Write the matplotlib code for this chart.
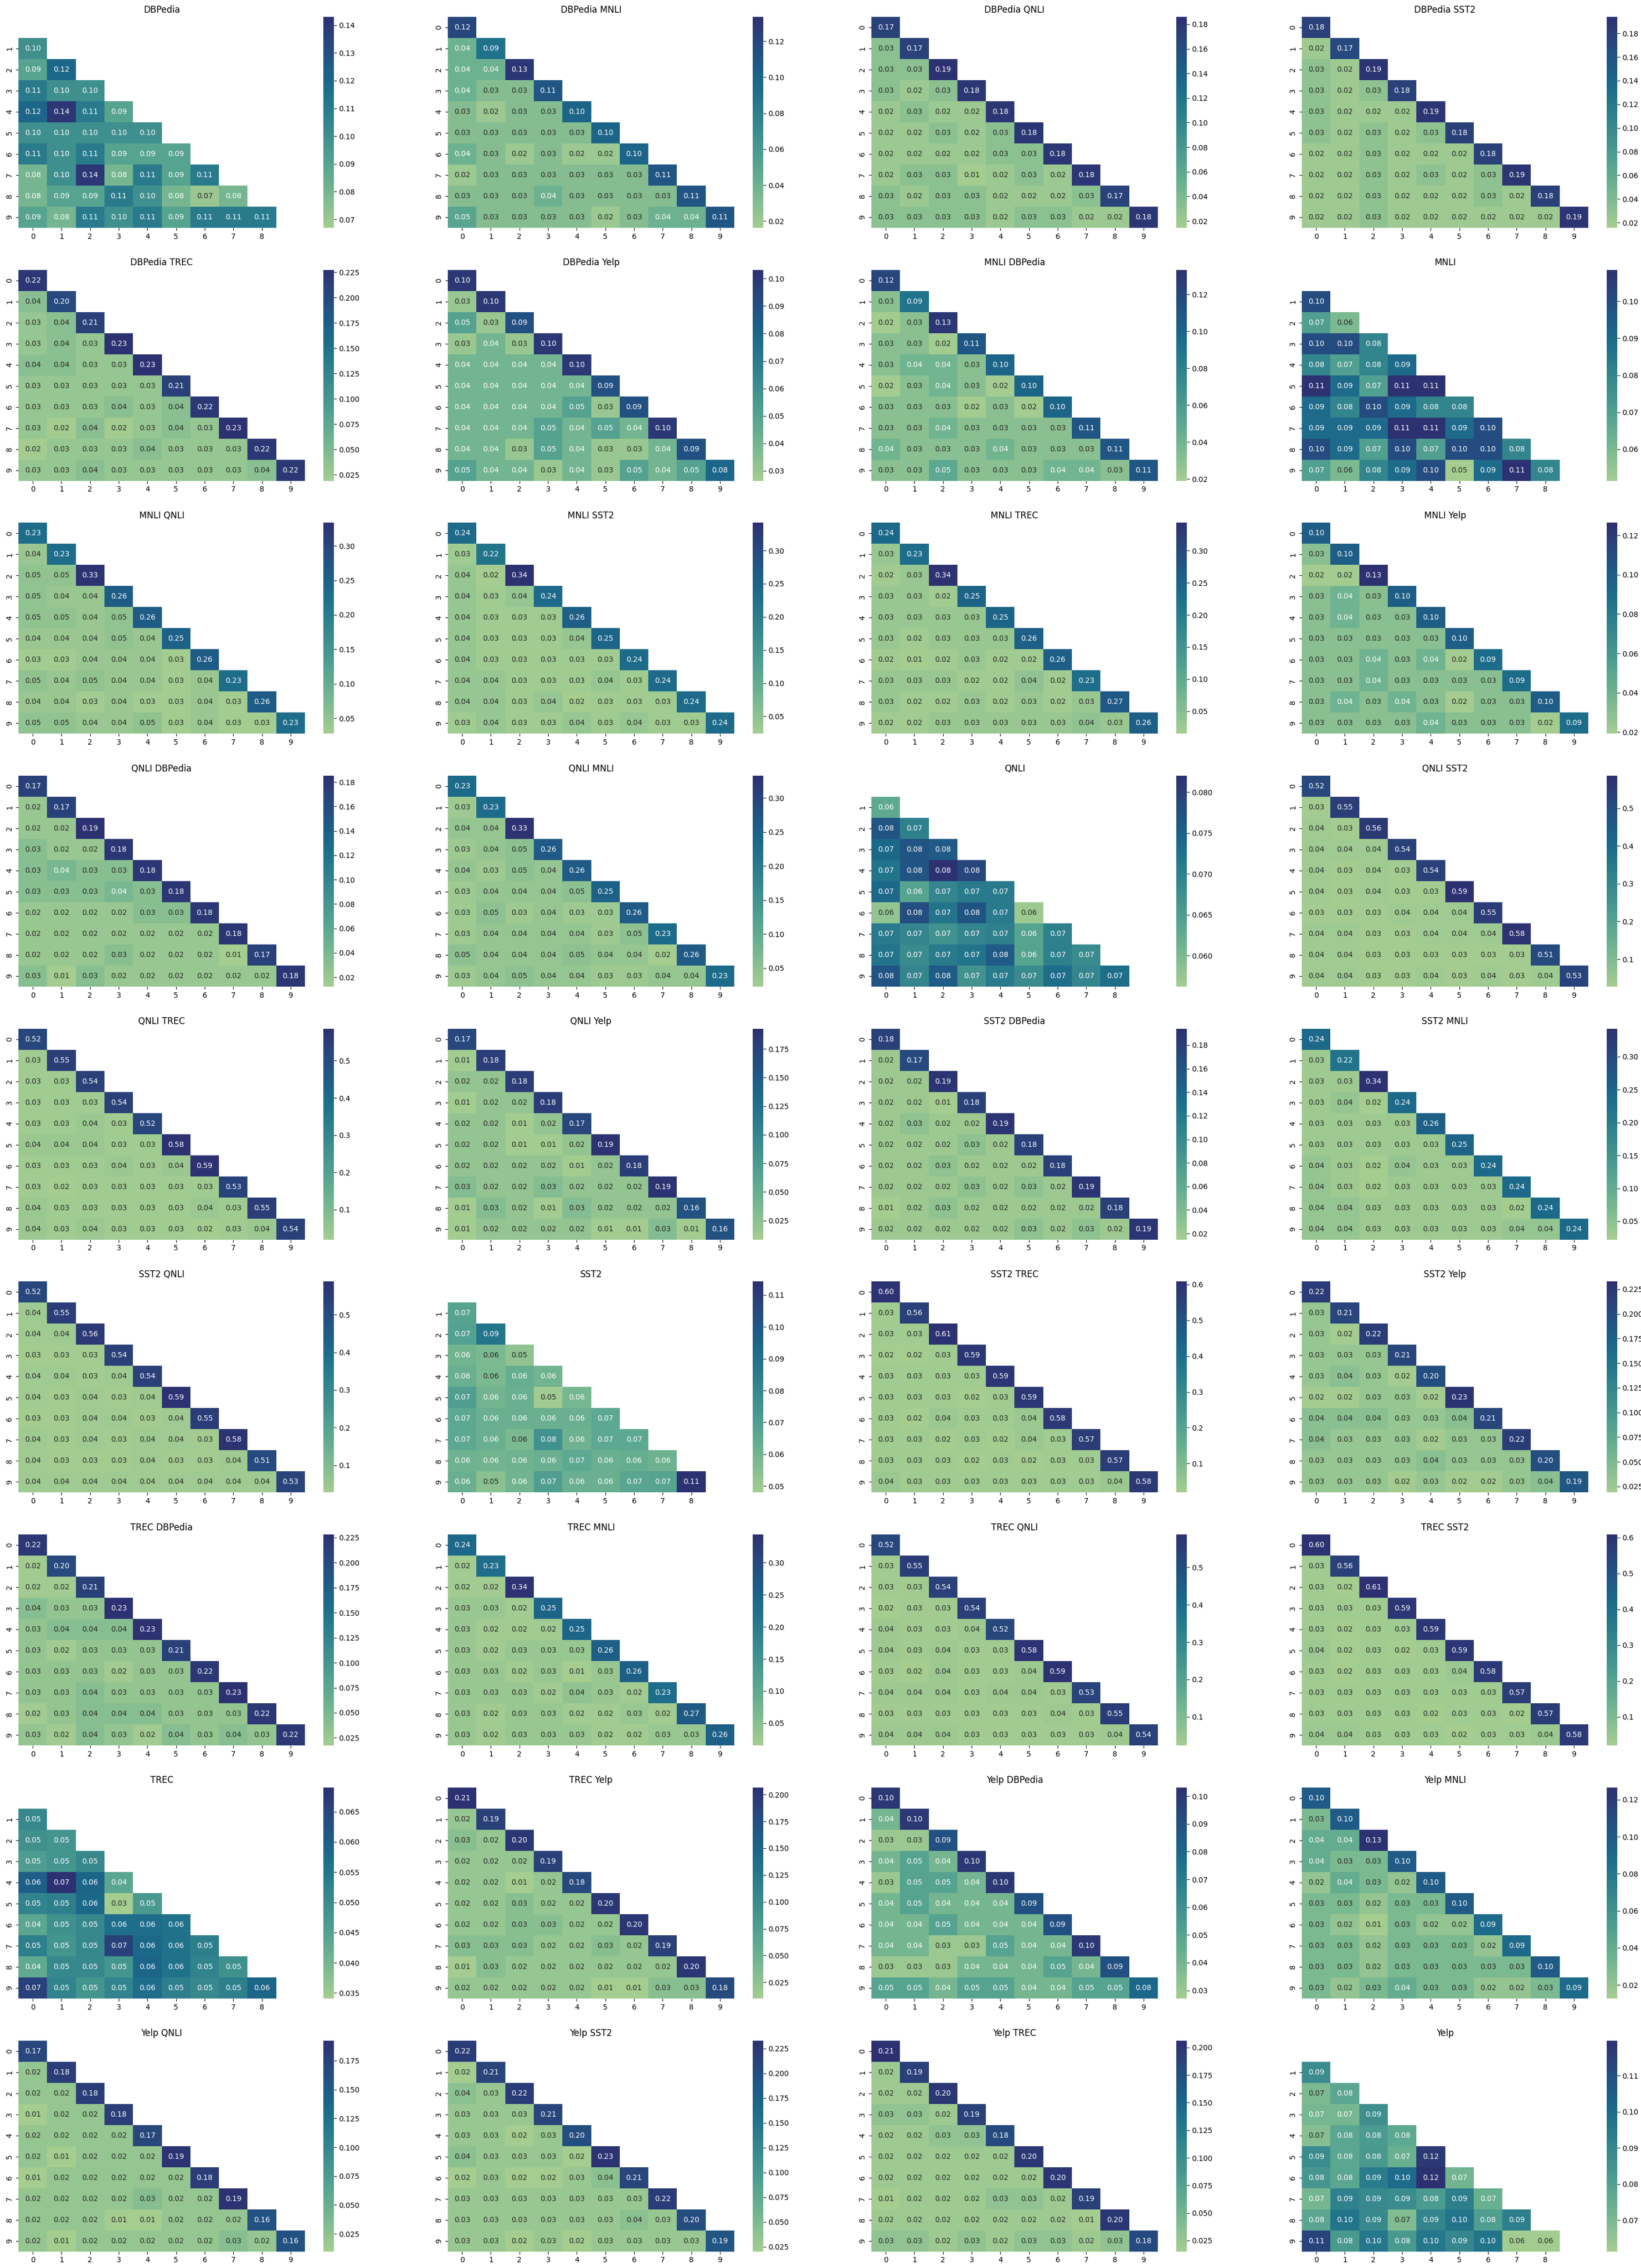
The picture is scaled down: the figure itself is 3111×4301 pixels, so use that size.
import numpy as np
import matplotlib
matplotlib.use("Agg")
import matplotlib.pyplot as plt
import seaborn as sns

datasets = ["DBPedia", "MNLI", "QNLI", "SST2", "TREC", "Yelp"]

# single dataset: strictly lower triangle (rows 1-9)
dbpedia = [
    [0.10],
    [0.09, 0.12],
    [0.11, 0.10, 0.10],
    [0.12, 0.14, 0.11, 0.09],
    [0.10, 0.10, 0.10, 0.10, 0.10],
    [0.11, 0.10, 0.11, 0.09, 0.09, 0.09],
    [0.08, 0.10, 0.14, 0.08, 0.11, 0.09, 0.11],
    [0.08, 0.09, 0.09, 0.11, 0.10, 0.08, 0.07, 0.08],
    [0.09, 0.08, 0.11, 0.10, 0.11, 0.09, 0.11, 0.11, 0.11],
]
mnli = [
    [0.10],
    [0.07, 0.06],
    [0.10, 0.10, 0.08],
    [0.08, 0.07, 0.08, 0.09],
    [0.11, 0.09, 0.07, 0.11, 0.11],
    [0.09, 0.08, 0.10, 0.09, 0.08, 0.08],
    [0.09, 0.09, 0.09, 0.11, 0.11, 0.09, 0.10],
    [0.10, 0.09, 0.07, 0.10, 0.07, 0.10, 0.10, 0.08],
    [0.07, 0.06, 0.08, 0.09, 0.10, 0.05, 0.09, 0.11, 0.08],
]
qnli = [
    [0.063],
    [0.077, 0.070],
    [0.074, 0.077, 0.076],
    [0.072, 0.077, 0.082, 0.079],
    [0.074, 0.064, 0.069, 0.071, 0.071],
    [0.058, 0.078, 0.072, 0.077, 0.071, 0.057],
    [0.071, 0.069, 0.067, 0.069, 0.070, 0.064, 0.070],
    [0.072, 0.068, 0.071, 0.072, 0.076, 0.064, 0.070, 0.068],
    [0.077, 0.069, 0.076, 0.067, 0.071, 0.068, 0.073, 0.069, 0.073],
]
sst2 = [
    [0.068],
    [0.069, 0.088],
    [0.060, 0.058, 0.053],
    [0.062, 0.058, 0.063, 0.060],
    [0.070, 0.060, 0.062, 0.049, 0.059],
    [0.066, 0.062, 0.062, 0.062, 0.062, 0.066],
    [0.066, 0.062, 0.058, 0.076, 0.061, 0.066, 0.066],
    [0.061, 0.060, 0.061, 0.062, 0.066, 0.062, 0.063, 0.061],
    [0.062, 0.054, 0.060, 0.070, 0.062, 0.062, 0.067, 0.068, 0.114],
]
trec = [
    [0.051],
    [0.049, 0.048],
    [0.046, 0.048, 0.051],
    [0.060, 0.069, 0.059, 0.044],
    [0.052, 0.053, 0.058, 0.034, 0.047],
    [0.044, 0.049, 0.051, 0.057, 0.057, 0.056],
    [0.053, 0.048, 0.051, 0.066, 0.058, 0.056, 0.053],
    [0.043, 0.051, 0.051, 0.048, 0.059, 0.056, 0.052, 0.049],
    [0.066, 0.052, 0.048, 0.052, 0.057, 0.053, 0.051, 0.053, 0.059],
]
yelp = [
    [0.088],
    [0.070, 0.078],
    [0.071, 0.071, 0.087],
    [0.068, 0.078, 0.082, 0.077],
    [0.088, 0.078, 0.083, 0.074, 0.117],
    [0.084, 0.078, 0.094, 0.101, 0.120, 0.072],
    [0.071, 0.092, 0.089, 0.088, 0.082, 0.093, 0.074],
    [0.078, 0.097, 0.089, 0.069, 0.091, 0.097, 0.081, 0.093],
    [0.114, 0.083, 0.096, 0.083, 0.096, 0.090, 0.097, 0.062, 0.062],
]

# dataset pairs: lower triangle with diagonal (rows 0-9)
dbpedia_mnli = [
    [0.12],
    [0.04, 0.09],
    [0.04, 0.04, 0.13],
    [0.04, 0.03, 0.03, 0.11],
    [0.03, 0.02, 0.03, 0.03, 0.10],
    [0.03, 0.03, 0.03, 0.03, 0.03, 0.10],
    [0.04, 0.03, 0.02, 0.03, 0.02, 0.02, 0.10],
    [0.02, 0.03, 0.03, 0.03, 0.03, 0.03, 0.03, 0.11],
    [0.03, 0.03, 0.03, 0.04, 0.03, 0.03, 0.03, 0.03, 0.11],
    [0.05, 0.03, 0.03, 0.03, 0.03, 0.02, 0.03, 0.04, 0.04, 0.11],
]
dbpedia_qnli = [
    [0.17],
    [0.03, 0.17],
    [0.03, 0.03, 0.19],
    [0.03, 0.02, 0.03, 0.18],
    [0.02, 0.03, 0.02, 0.02, 0.18],
    [0.02, 0.02, 0.03, 0.02, 0.03, 0.18],
    [0.02, 0.02, 0.02, 0.02, 0.03, 0.03, 0.18],
    [0.02, 0.03, 0.03, 0.01, 0.02, 0.03, 0.02, 0.18],
    [0.03, 0.02, 0.03, 0.03, 0.02, 0.02, 0.02, 0.03, 0.17],
    [0.03, 0.03, 0.03, 0.03, 0.02, 0.03, 0.03, 0.02, 0.02, 0.18],
]
dbpedia_sst2 = [
    [0.18],
    [0.02, 0.17],
    [0.03, 0.02, 0.19],
    [0.03, 0.02, 0.03, 0.18],
    [0.03, 0.02, 0.02, 0.02, 0.19],
    [0.03, 0.02, 0.03, 0.02, 0.03, 0.18],
    [0.02, 0.02, 0.03, 0.02, 0.02, 0.02, 0.18],
    [0.02, 0.02, 0.03, 0.02, 0.03, 0.02, 0.03, 0.19],
    [0.02, 0.02, 0.03, 0.02, 0.02, 0.02, 0.03, 0.02, 0.18],
    [0.02, 0.02, 0.03, 0.02, 0.02, 0.02, 0.02, 0.02, 0.02, 0.19],
]
dbpedia_trec = [
    [0.22],
    [0.04, 0.20],
    [0.03, 0.04, 0.21],
    [0.03, 0.04, 0.03, 0.23],
    [0.04, 0.04, 0.03, 0.03, 0.23],
    [0.03, 0.03, 0.03, 0.03, 0.03, 0.21],
    [0.03, 0.03, 0.03, 0.04, 0.03, 0.04, 0.22],
    [0.03, 0.02, 0.04, 0.02, 0.03, 0.04, 0.03, 0.23],
    [0.02, 0.03, 0.03, 0.03, 0.04, 0.03, 0.03, 0.03, 0.22],
    [0.03, 0.03, 0.04, 0.03, 0.03, 0.03, 0.03, 0.03, 0.04, 0.22],
]
dbpedia_yelp = [
    [0.10],
    [0.03, 0.10],
    [0.05, 0.03, 0.09],
    [0.03, 0.04, 0.03, 0.10],
    [0.04, 0.04, 0.04, 0.04, 0.10],
    [0.04, 0.04, 0.04, 0.04, 0.04, 0.09],
    [0.04, 0.04, 0.04, 0.04, 0.05, 0.03, 0.09],
    [0.04, 0.04, 0.04, 0.05, 0.04, 0.05, 0.04, 0.10],
    [0.04, 0.04, 0.03, 0.05, 0.04, 0.03, 0.03, 0.04, 0.09],
    [0.05, 0.04, 0.04, 0.03, 0.04, 0.03, 0.05, 0.04, 0.05, 0.08],
]
mnli_dbpedia = [
    [0.12],
    [0.03, 0.09],
    [0.02, 0.03, 0.13],
    [0.03, 0.03, 0.02, 0.11],
    [0.03, 0.04, 0.04, 0.03, 0.10],
    [0.02, 0.03, 0.04, 0.03, 0.02, 0.10],
    [0.03, 0.03, 0.03, 0.02, 0.03, 0.02, 0.10],
    [0.03, 0.03, 0.04, 0.03, 0.03, 0.03, 0.03, 0.11],
    [0.04, 0.03, 0.03, 0.03, 0.04, 0.03, 0.03, 0.03, 0.11],
    [0.03, 0.03, 0.05, 0.03, 0.03, 0.03, 0.04, 0.04, 0.03, 0.11],
]
mnli_qnli = [
    [0.23],
    [0.04, 0.23],
    [0.05, 0.05, 0.33],
    [0.05, 0.04, 0.04, 0.26],
    [0.05, 0.05, 0.04, 0.05, 0.26],
    [0.04, 0.04, 0.04, 0.05, 0.04, 0.25],
    [0.03, 0.03, 0.04, 0.04, 0.04, 0.03, 0.26],
    [0.05, 0.04, 0.05, 0.04, 0.04, 0.03, 0.04, 0.23],
    [0.04, 0.04, 0.03, 0.04, 0.03, 0.03, 0.04, 0.03, 0.26],
    [0.05, 0.05, 0.04, 0.04, 0.05, 0.03, 0.04, 0.03, 0.03, 0.23],
]
mnli_sst2 = [
    [0.24],
    [0.03, 0.22],
    [0.04, 0.02, 0.34],
    [0.04, 0.03, 0.04, 0.24],
    [0.04, 0.03, 0.03, 0.03, 0.26],
    [0.04, 0.03, 0.03, 0.03, 0.04, 0.25],
    [0.04, 0.03, 0.03, 0.03, 0.03, 0.03, 0.24],
    [0.04, 0.04, 0.03, 0.03, 0.03, 0.04, 0.03, 0.24],
    [0.04, 0.04, 0.03, 0.04, 0.02, 0.03, 0.03, 0.03, 0.24],
    [0.03, 0.04, 0.03, 0.03, 0.04, 0.03, 0.04, 0.03, 0.03, 0.24],
]
mnli_trec = [
    [0.24],
    [0.03, 0.23],
    [0.02, 0.03, 0.34],
    [0.03, 0.03, 0.02, 0.25],
    [0.03, 0.03, 0.03, 0.03, 0.25],
    [0.03, 0.02, 0.03, 0.03, 0.03, 0.26],
    [0.02, 0.01, 0.02, 0.03, 0.02, 0.02, 0.26],
    [0.03, 0.03, 0.03, 0.02, 0.02, 0.04, 0.02, 0.23],
    [0.03, 0.02, 0.02, 0.03, 0.02, 0.03, 0.02, 0.03, 0.27],
    [0.02, 0.02, 0.03, 0.03, 0.03, 0.03, 0.03, 0.04, 0.03, 0.26],
]
mnli_yelp = [
    [0.10],
    [0.03, 0.10],
    [0.02, 0.02, 0.13],
    [0.03, 0.04, 0.03, 0.10],
    [0.03, 0.04, 0.03, 0.03, 0.10],
    [0.03, 0.03, 0.03, 0.03, 0.03, 0.10],
    [0.03, 0.03, 0.04, 0.03, 0.04, 0.02, 0.09],
    [0.03, 0.03, 0.04, 0.03, 0.03, 0.03, 0.03, 0.09],
    [0.03, 0.04, 0.03, 0.04, 0.03, 0.02, 0.03, 0.03, 0.10],
    [0.03, 0.03, 0.03, 0.03, 0.04, 0.03, 0.03, 0.03, 0.02, 0.09],
]
qnli_dbpedia = [
    [0.17],
    [0.02, 0.17],
    [0.02, 0.02, 0.19],
    [0.03, 0.02, 0.02, 0.18],
    [0.03, 0.04, 0.03, 0.03, 0.18],
    [0.03, 0.03, 0.03, 0.04, 0.03, 0.18],
    [0.02, 0.02, 0.02, 0.02, 0.03, 0.03, 0.18],
    [0.02, 0.02, 0.02, 0.02, 0.02, 0.02, 0.02, 0.18],
    [0.02, 0.02, 0.02, 0.03, 0.02, 0.02, 0.02, 0.01, 0.17],
    [0.03, 0.01, 0.03, 0.02, 0.02, 0.02, 0.02, 0.02, 0.02, 0.18],
]
qnli_mnli = [
    [0.23],
    [0.03, 0.23],
    [0.04, 0.04, 0.33],
    [0.03, 0.04, 0.05, 0.26],
    [0.04, 0.03, 0.05, 0.04, 0.26],
    [0.03, 0.04, 0.04, 0.04, 0.05, 0.25],
    [0.03, 0.05, 0.03, 0.04, 0.03, 0.03, 0.26],
    [0.03, 0.04, 0.04, 0.04, 0.04, 0.03, 0.05, 0.23],
    [0.05, 0.04, 0.04, 0.04, 0.05, 0.04, 0.04, 0.02, 0.26],
    [0.03, 0.04, 0.05, 0.04, 0.04, 0.03, 0.03, 0.04, 0.04, 0.23],
]
qnli_sst2 = [
    [0.52],
    [0.03, 0.55],
    [0.04, 0.03, 0.56],
    [0.04, 0.04, 0.04, 0.54],
    [0.04, 0.03, 0.04, 0.03, 0.54],
    [0.04, 0.03, 0.04, 0.03, 0.03, 0.59],
    [0.03, 0.03, 0.03, 0.04, 0.04, 0.04, 0.55],
    [0.04, 0.04, 0.03, 0.03, 0.04, 0.04, 0.04, 0.58],
    [0.04, 0.04, 0.03, 0.03, 0.03, 0.03, 0.03, 0.03, 0.51],
    [0.04, 0.04, 0.03, 0.03, 0.04, 0.03, 0.04, 0.03, 0.04, 0.53],
]
qnli_trec = [
    [0.52],
    [0.03, 0.55],
    [0.03, 0.03, 0.54],
    [0.03, 0.03, 0.03, 0.54],
    [0.03, 0.03, 0.04, 0.03, 0.52],
    [0.04, 0.04, 0.04, 0.03, 0.03, 0.58],
    [0.03, 0.03, 0.03, 0.04, 0.03, 0.04, 0.59],
    [0.03, 0.02, 0.03, 0.03, 0.03, 0.03, 0.03, 0.53],
    [0.04, 0.03, 0.03, 0.03, 0.03, 0.03, 0.04, 0.03, 0.55],
    [0.04, 0.03, 0.04, 0.03, 0.03, 0.03, 0.02, 0.03, 0.04, 0.54],
]
qnli_yelp = [
    [0.17],
    [0.01, 0.18],
    [0.02, 0.02, 0.18],
    [0.01, 0.02, 0.02, 0.18],
    [0.02, 0.02, 0.01, 0.02, 0.17],
    [0.02, 0.02, 0.01, 0.01, 0.02, 0.19],
    [0.02, 0.02, 0.02, 0.02, 0.01, 0.02, 0.18],
    [0.03, 0.02, 0.02, 0.03, 0.02, 0.02, 0.02, 0.19],
    [0.01, 0.03, 0.02, 0.01, 0.03, 0.02, 0.02, 0.02, 0.16],
    [0.01, 0.02, 0.02, 0.02, 0.02, 0.01, 0.01, 0.03, 0.01, 0.16],
]
sst2_dbpedia = [
    [0.18],
    [0.02, 0.17],
    [0.02, 0.02, 0.19],
    [0.02, 0.02, 0.01, 0.18],
    [0.02, 0.03, 0.02, 0.02, 0.19],
    [0.02, 0.02, 0.02, 0.03, 0.02, 0.18],
    [0.02, 0.02, 0.03, 0.02, 0.02, 0.02, 0.18],
    [0.02, 0.02, 0.02, 0.03, 0.02, 0.03, 0.02, 0.19],
    [0.01, 0.02, 0.03, 0.02, 0.02, 0.02, 0.02, 0.02, 0.18],
    [0.02, 0.02, 0.02, 0.02, 0.02, 0.03, 0.02, 0.03, 0.02, 0.19],
]
sst2_mnli = [
    [0.24],
    [0.03, 0.22],
    [0.03, 0.03, 0.34],
    [0.03, 0.04, 0.02, 0.24],
    [0.03, 0.03, 0.03, 0.03, 0.26],
    [0.03, 0.03, 0.03, 0.03, 0.03, 0.25],
    [0.04, 0.03, 0.02, 0.04, 0.03, 0.03, 0.24],
    [0.04, 0.03, 0.02, 0.03, 0.03, 0.03, 0.03, 0.24],
    [0.04, 0.04, 0.03, 0.03, 0.03, 0.03, 0.03, 0.02, 0.24],
    [0.04, 0.04, 0.03, 0.03, 0.03, 0.03, 0.03, 0.04, 0.04, 0.24],
]
sst2_qnli = [
    [0.52],
    [0.04, 0.55],
    [0.04, 0.04, 0.56],
    [0.03, 0.03, 0.03, 0.54],
    [0.04, 0.04, 0.03, 0.04, 0.54],
    [0.04, 0.03, 0.04, 0.03, 0.04, 0.59],
    [0.03, 0.03, 0.04, 0.04, 0.03, 0.04, 0.55],
    [0.04, 0.03, 0.04, 0.03, 0.04, 0.04, 0.03, 0.58],
    [0.04, 0.03, 0.03, 0.03, 0.04, 0.03, 0.03, 0.04, 0.51],
    [0.04, 0.04, 0.04, 0.04, 0.04, 0.04, 0.04, 0.04, 0.04, 0.53],
]
sst2_trec = [
    [0.60],
    [0.03, 0.56],
    [0.03, 0.03, 0.61],
    [0.02, 0.02, 0.03, 0.59],
    [0.03, 0.03, 0.03, 0.03, 0.59],
    [0.03, 0.03, 0.03, 0.02, 0.03, 0.59],
    [0.03, 0.02, 0.04, 0.03, 0.03, 0.04, 0.58],
    [0.03, 0.03, 0.02, 0.03, 0.02, 0.04, 0.03, 0.57],
    [0.03, 0.03, 0.03, 0.02, 0.03, 0.02, 0.03, 0.03, 0.57],
    [0.04, 0.03, 0.03, 0.03, 0.03, 0.03, 0.03, 0.03, 0.04, 0.58],
]
sst2_yelp = [
    [0.22],
    [0.03, 0.21],
    [0.03, 0.02, 0.22],
    [0.03, 0.03, 0.03, 0.21],
    [0.03, 0.04, 0.03, 0.02, 0.20],
    [0.02, 0.02, 0.03, 0.03, 0.02, 0.23],
    [0.04, 0.04, 0.04, 0.03, 0.03, 0.04, 0.21],
    [0.04, 0.03, 0.03, 0.03, 0.02, 0.03, 0.03, 0.22],
    [0.03, 0.03, 0.03, 0.03, 0.04, 0.03, 0.03, 0.03, 0.20],
    [0.03, 0.03, 0.03, 0.02, 0.03, 0.02, 0.02, 0.03, 0.04, 0.19],
]
trec_dbpedia = [
    [0.22],
    [0.02, 0.20],
    [0.02, 0.02, 0.21],
    [0.04, 0.03, 0.03, 0.23],
    [0.03, 0.04, 0.04, 0.04, 0.23],
    [0.03, 0.02, 0.03, 0.03, 0.03, 0.21],
    [0.03, 0.03, 0.03, 0.02, 0.03, 0.03, 0.22],
    [0.03, 0.03, 0.04, 0.03, 0.03, 0.03, 0.03, 0.23],
    [0.02, 0.03, 0.04, 0.04, 0.04, 0.03, 0.03, 0.03, 0.22],
    [0.03, 0.02, 0.04, 0.03, 0.02, 0.04, 0.03, 0.04, 0.03, 0.22],
]
trec_mnli = [
    [0.24],
    [0.02, 0.23],
    [0.02, 0.02, 0.34],
    [0.03, 0.03, 0.02, 0.25],
    [0.03, 0.02, 0.02, 0.02, 0.25],
    [0.03, 0.02, 0.03, 0.03, 0.03, 0.26],
    [0.03, 0.03, 0.02, 0.03, 0.01, 0.03, 0.26],
    [0.03, 0.03, 0.03, 0.02, 0.04, 0.03, 0.02, 0.23],
    [0.03, 0.02, 0.03, 0.03, 0.02, 0.02, 0.03, 0.02, 0.27],
    [0.03, 0.02, 0.03, 0.03, 0.03, 0.02, 0.02, 0.03, 0.03, 0.26],
]
trec_qnli = [
    [0.52],
    [0.03, 0.55],
    [0.03, 0.03, 0.54],
    [0.02, 0.03, 0.03, 0.54],
    [0.04, 0.03, 0.03, 0.04, 0.52],
    [0.04, 0.03, 0.04, 0.03, 0.03, 0.58],
    [0.03, 0.02, 0.04, 0.03, 0.03, 0.04, 0.59],
    [0.04, 0.04, 0.04, 0.03, 0.04, 0.04, 0.03, 0.53],
    [0.03, 0.03, 0.03, 0.03, 0.03, 0.03, 0.04, 0.03, 0.55],
    [0.04, 0.04, 0.04, 0.03, 0.03, 0.03, 0.03, 0.03, 0.04, 0.54],
]
trec_sst2 = [
    [0.60],
    [0.03, 0.56],
    [0.03, 0.02, 0.61],
    [0.03, 0.03, 0.03, 0.59],
    [0.03, 0.02, 0.03, 0.03, 0.59],
    [0.04, 0.02, 0.03, 0.02, 0.03, 0.59],
    [0.03, 0.02, 0.03, 0.03, 0.03, 0.04, 0.58],
    [0.03, 0.03, 0.03, 0.03, 0.03, 0.03, 0.03, 0.57],
    [0.03, 0.03, 0.03, 0.03, 0.02, 0.03, 0.03, 0.02, 0.57],
    [0.04, 0.04, 0.03, 0.03, 0.03, 0.02, 0.03, 0.03, 0.04, 0.58],
]
trec_yelp = [
    [0.21],
    [0.02, 0.19],
    [0.03, 0.02, 0.20],
    [0.02, 0.02, 0.02, 0.19],
    [0.02, 0.02, 0.01, 0.02, 0.18],
    [0.02, 0.02, 0.03, 0.02, 0.02, 0.20],
    [0.02, 0.02, 0.03, 0.03, 0.02, 0.02, 0.20],
    [0.03, 0.03, 0.03, 0.02, 0.02, 0.03, 0.02, 0.19],
    [0.01, 0.03, 0.02, 0.02, 0.02, 0.02, 0.02, 0.02, 0.20],
    [0.02, 0.02, 0.02, 0.02, 0.02, 0.01, 0.01, 0.03, 0.03, 0.18],
]
yelp_dbpedia = [
    [0.10],
    [0.04, 0.10],
    [0.03, 0.03, 0.09],
    [0.04, 0.05, 0.04, 0.10],
    [0.03, 0.05, 0.05, 0.04, 0.10],
    [0.04, 0.05, 0.04, 0.04, 0.04, 0.09],
    [0.04, 0.04, 0.05, 0.04, 0.04, 0.04, 0.09],
    [0.04, 0.04, 0.03, 0.03, 0.05, 0.04, 0.04, 0.10],
    [0.03, 0.03, 0.03, 0.04, 0.04, 0.04, 0.05, 0.04, 0.09],
    [0.05, 0.05, 0.04, 0.05, 0.05, 0.04, 0.04, 0.05, 0.05, 0.08],
]
yelp_mnli = [
    [0.10],
    [0.03, 0.10],
    [0.04, 0.04, 0.13],
    [0.04, 0.03, 0.03, 0.10],
    [0.02, 0.04, 0.03, 0.02, 0.10],
    [0.03, 0.03, 0.02, 0.03, 0.03, 0.10],
    [0.03, 0.02, 0.01, 0.03, 0.02, 0.02, 0.09],
    [0.03, 0.03, 0.02, 0.03, 0.03, 0.03, 0.02, 0.09],
    [0.03, 0.03, 0.02, 0.03, 0.03, 0.03, 0.03, 0.03, 0.10],
    [0.03, 0.02, 0.03, 0.04, 0.03, 0.03, 0.02, 0.02, 0.03, 0.09],
]
yelp_qnli = [
    [0.17],
    [0.02, 0.18],
    [0.02, 0.02, 0.18],
    [0.01, 0.02, 0.02, 0.18],
    [0.02, 0.02, 0.02, 0.02, 0.17],
    [0.02, 0.01, 0.02, 0.02, 0.02, 0.19],
    [0.01, 0.02, 0.02, 0.02, 0.02, 0.02, 0.18],
    [0.02, 0.02, 0.02, 0.02, 0.03, 0.02, 0.02, 0.19],
    [0.02, 0.02, 0.02, 0.01, 0.01, 0.02, 0.02, 0.02, 0.16],
    [0.02, 0.01, 0.02, 0.02, 0.02, 0.02, 0.02, 0.03, 0.02, 0.16],
]
yelp_sst2 = [
    [0.22],
    [0.02, 0.21],
    [0.04, 0.03, 0.22],
    [0.03, 0.03, 0.03, 0.21],
    [0.03, 0.03, 0.02, 0.03, 0.20],
    [0.04, 0.03, 0.03, 0.03, 0.02, 0.23],
    [0.02, 0.03, 0.02, 0.02, 0.03, 0.04, 0.21],
    [0.03, 0.03, 0.03, 0.03, 0.03, 0.03, 0.03, 0.22],
    [0.03, 0.03, 0.03, 0.03, 0.03, 0.03, 0.04, 0.03, 0.20],
    [0.03, 0.03, 0.02, 0.03, 0.02, 0.03, 0.03, 0.03, 0.03, 0.19],
]
yelp_trec = [
    [0.21],
    [0.02, 0.19],
    [0.02, 0.02, 0.20],
    [0.03, 0.03, 0.02, 0.19],
    [0.02, 0.02, 0.03, 0.03, 0.18],
    [0.02, 0.02, 0.02, 0.02, 0.02, 0.20],
    [0.02, 0.02, 0.02, 0.02, 0.02, 0.02, 0.20],
    [0.01, 0.02, 0.02, 0.02, 0.03, 0.03, 0.02, 0.19],
    [0.02, 0.02, 0.02, 0.02, 0.02, 0.02, 0.02, 0.01, 0.20],
    [0.03, 0.03, 0.02, 0.03, 0.02, 0.03, 0.03, 0.02, 0.03, 0.18],
]

# panels in reading order (row by row, 4 per row)
panels = [
    dbpedia, dbpedia_mnli, dbpedia_qnli, dbpedia_sst2,
    dbpedia_trec, dbpedia_yelp, mnli_dbpedia, mnli,
    mnli_qnli, mnli_sst2, mnli_trec, mnli_yelp,
    qnli_dbpedia, qnli_mnli, qnli, qnli_sst2,
    qnli_trec, qnli_yelp, sst2_dbpedia, sst2_mnli,
    sst2_qnli, sst2, sst2_trec, sst2_yelp,
    trec_dbpedia, trec_mnli, trec_qnli, trec_sst2,
    trec, trec_yelp, yelp_dbpedia, yelp_mnli,
    yelp_qnli, yelp_sst2, yelp_trec, yelp,
]

# colour scale limits
cbar_min = [
    0.067, 0.0163, 0.0145, 0.0156,
    0.019, 0.0264, 0.019, 0.0515,
    0.0276, 0.0238, 0.015, 0.0192,
    0.0123, 0.0225, 0.0562, 0.0274,
    0.0197, 0.0084, 0.0148, 0.0222,
    0.0273, 0.048, 0.019, 0.0188,
    0.0173, 0.0154, 0.0233, 0.020,
    0.0341, 0.010, 0.0271, 0.0127,
    0.0097, 0.0204, 0.0152, 0.0614,
]
cbar_max = [
    0.143, 0.1336, 0.186, 0.194,
    0.2275, 0.1032, 0.1333, 0.1085,
    0.3336, 0.342, 0.3436, 0.1264,
    0.1853, 0.3327, 0.082, 0.586,
    0.586, 0.1927, 0.194, 0.3425,
    0.588, 0.1142, 0.608, 0.2328,
    0.2279, 0.3436, 0.588, 0.608,
    0.069, 0.2066, 0.1031, 0.1266,
    0.1926, 0.233, 0.2064, 0.1197,
]


def to_matrix(rows):
    m = np.full((10, 10), np.nan)
    start = 10 - len(rows)
    for k, r in enumerate(rows):
        m[k + start, :len(r)] = r
    return m


W, H = 3111, 4301
fig = plt.figure(figsize=(W / 100, H / 100), dpi=100)

col_left = [35, 849, 1652, 2468]
hm_w, hm_h = 543, 400

titles = [a if a == b else a + " " + b for a in datasets for b in datasets]

for n, rows in enumerate(panels):
    i, j = divmod(n, 4)
    top = 31.9 + 479.7 * i
    bottom = (H - top - hm_h) / H
    ax = fig.add_axes([col_left[j] / W, bottom, hm_w / W, hm_h / H])
    cax = fig.add_axes([(col_left[j] + 577.5) / W, bottom, 20 / W, hm_h / H])

    m = to_matrix(rows)
    sns.heatmap(m, mask=np.isnan(m), ax=ax, cbar_ax=cax, cmap="crest",
                annot=True, fmt=".2f", vmin=cbar_min[n], vmax=cbar_max[n])
    ax.set_title(titles[n])

    if len(rows) == 9:
        # diagonal left out: no row 0 and no column 9
        ax.set_xticks(np.arange(9) + 0.5, labels=[str(k) for k in range(9)])
        ax.set_yticks(np.arange(1, 10) + 0.5,
                      labels=[str(k) for k in range(1, 10)],
                      rotation=90, va="center")

fig.savefig("out.png", dpi=100)
